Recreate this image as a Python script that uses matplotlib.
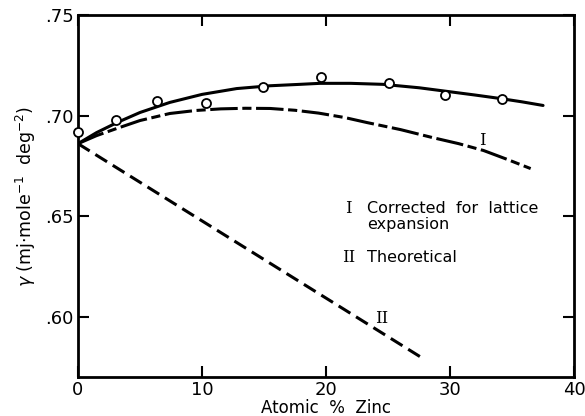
import matplotlib
matplotlib.use("Agg")
import matplotlib.pyplot as plt

# measured data points (circles)
pts_x = [0.0, 3.1, 6.4, 10.3, 14.9, 19.6, 25.1, 29.6, 34.2]
pts_y = [0.692, 0.698, 0.707, 0.706, 0.714, 0.719, 0.716, 0.710, 0.708]

# fitted solid curve
fit_x = [0.0, 1.5, 3.15, 5.0, 7.4, 10.0, 12.8, 15.5, 17.9, 19.5, 22.0, 24.6, 27.5, 30.0, 32.0, 34.0, 35.8, 37.5]
fit_y = [0.686, 0.6915, 0.6965, 0.7015, 0.7065, 0.7105, 0.7134, 0.7148, 0.7155, 0.716, 0.716, 0.7155, 0.7138, 0.7118, 0.7102, 0.7085, 0.7068, 0.705]

# curve I: corrected for lattice expansion
c1_x = [0.0, 1.5, 3.1, 5.0, 7.4, 9.5, 11.5, 13.5, 15.5, 17.5, 19.4, 21.5, 23.3, 26.0, 28.6, 30.7, 32.7, 34.6, 36.5]
c1_y = [0.686, 0.6900, 0.6935, 0.6975, 0.7010, 0.7025, 0.7033, 0.7036, 0.7035, 0.7026, 0.7012, 0.6990, 0.6965, 0.6930, 0.6890, 0.6860, 0.6826, 0.6782, 0.6736]

# curve II: theoretical
c2_x = [0.0, 27.6]
c2_y = [0.686, 0.580]

xticks = [0, 10, 20, 30, 40]
yticks = [0.60, 0.65, 0.70, 0.75]
ytick_labels = [".60", ".65", ".70", ".75"]

fig = plt.figure(figsize=(5.85, 4.16), dpi=100)
ax = fig.add_axes([0.1333, 0.094, 0.848, 0.870])

ax.plot(fit_x, fit_y, color="black", lw=2.2, solid_capstyle="round")
ax.plot(c1_x, c1_y, color="black", lw=2.2, dashes=(9, 1.5, 3, 1.5))
ax.plot(c2_x, c2_y, color="black", lw=2.2, dashes=(4.5, 2.2))
ax.plot(pts_x, pts_y, "o", ms=6.5, mfc="white", mec="black", mew=1.3, clip_on=False, zorder=5)

ax.set_xlim(0, 40)
ax.set_ylim(0.570, 0.750)
ax.set_xticks(xticks)
ax.set_xticklabels([str(t) for t in xticks])
ax.set_yticks(yticks)
ax.set_yticklabels(ytick_labels)
ax.tick_params(direction="in", length=8, width=1.5, top=True, right=True,
               labelsize=13, pad=3)
for s in ax.spines.values():
    s.set_linewidth(2)

ax.set_xlabel("Atomic  %  Zinc", fontsize=12, labelpad=0)
ax.set_ylabel(r"$\gamma$ (mj$\cdot$mole$^{-1}$  deg$^{-2}$)", fontsize=12.5, labelpad=5)

ax.text(32.6, 0.6876, "I", family="DejaVu Serif", fontsize=12, ha="center", va="center")
ax.text(24.5, 0.599, "II", family="DejaVu Serif", fontsize=12, ha="center", va="center")
ax.text(21.8, 0.6537, "I", family="DejaVu Serif", fontsize=12, ha="center", va="center")
ax.text(23.3, 0.6537, "Corrected  for  lattice", fontsize=11.5, ha="left", va="center")
ax.text(23.3, 0.6458, "expansion", fontsize=11.5, ha="left", va="center")
ax.text(21.8, 0.6294, "II", family="DejaVu Serif", fontsize=12, ha="center", va="center")
ax.text(23.3, 0.6294, "Theoretical", fontsize=11.5, ha="left", va="center")

fig.savefig("out.png", dpi=100)
